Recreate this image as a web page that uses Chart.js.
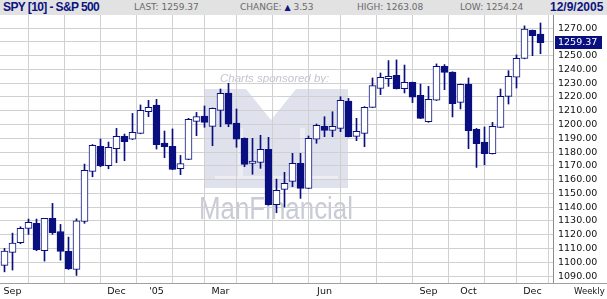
<!DOCTYPE html>
<html><head><meta charset="utf-8">
<script src="https://cdn.jsdelivr.net/npm/chart.js@4"></script>
<style>
html,body{margin:0;padding:0;background:#fff;}
#wrap{position:relative;width:607px;height:299px;overflow:hidden;font-family:"DejaVu Sans",sans-serif;}
#hdr{position:absolute;left:0;top:0;width:607px;height:15px;background:#e2e2e2;z-index:2;}
#hdr span{position:absolute;top:0;line-height:15px;white-space:nowrap;}
.g{color:#6a6a6a;font-size:9px;font-family:"DejaVu Sans",sans-serif;}
.b{color:#0b1480;font-weight:bold;font-family:"Liberation Sans",Arial,sans-serif;font-size:12px;}
.tri{color:#0b1480;font-size:8px;}
#weekly{position:absolute;left:574px;top:286px;font-size:8.5px;color:#111;font-family:"DejaVu Sans",sans-serif;z-index:2;}
canvas{position:absolute;left:0;top:0;}
</style>
</head><body>
<div id="wrap">
<canvas id="c" width="607" height="299"></canvas>
<div id="hdr">
<span class="b" style="left:3px;letter-spacing:-0.6px;">SPY [10] - S&amp;P 500</span>
<span class="g" style="left:134px;">LAST: 1259.37</span>
<span class="g" style="left:240px;">CHANGE: <span class="tri" style="position:static">&#9650;</span> 3.53</span>
<span class="g" style="left:357px;">HIGH: 1263.08</span>
<span class="g" style="left:460px;">LOW: 1254.24</span>
<span class="b" style="left:550px;">12/9/2005</span>
</div>
<div id="weekly">Weekly</div>
</div>
<script>
const opens  = [1097.8,1107.2,1114.2,1124.6,1128.3,1108.4,1131.9,1122.4,1107.9,1094.8,
                1129.7,1166.0,1184.2,1170.1,1182.5,1191.4,1189.3,1193.6,1209.3,1214.2,
                1186.6,1184.2,1167.9,1174.7,1202.3,1206.2,1198.7,1210.3,1222.9,1201.1,
                1190.0,1171.8,1172.6,1182.0,1141.8,1152.9,1158.8,1171.8,1153.7,1189.3,
                1198.7,1195.8,1197.2,1217.1,1191.4,1193.6,1212.5,1226.3,1233.3,1235.7,
                1226.0,1230.6,1221.2,1202.1,1217.6,1242.3,1238.1,1216.1,1229.4,1196.5,
                1187.3,1178.8,1198.0,1220.5,1234.3,1247.9,1268.4,1265.7];
const highs  = [1110.1,1121.2,1125.8,1131.4,1131.4,1131.9,1142.8,1127.5,1118.3,1131.6,
                1171.3,1185.5,1189.5,1187.3,1197.2,1193.1,1208.1,1214.2,1217.6,1218.3,
                1195.3,1196.8,1177.6,1204.5,1208.8,1213.5,1212.0,1225.8,1229.9,1211.3,
                1190.3,1190.0,1192.2,1190.7,1160.4,1165.3,1179.1,1179.1,1191.7,1200.4,
                1205.7,1209.3,1220.2,1219.0,1204.5,1213.0,1233.8,1237.4,1246.4,1246.9,
                1243.2,1230.8,1229.4,1227.7,1244.0,1243.5,1238.3,1229.4,1233.8,1197.2,
                1198.2,1201.6,1225.8,1239.1,1250.5,1271.6,1268.6,1273.7];
const lows   = [1093.1,1094.4,1113.5,1120.3,1108.4,1100.9,1120.3,1101.6,1094.8,1090.5,
                1128.3,1162.1,1169.4,1167.9,1172.3,1173.8,1189.0,1193.3,1205.7,1182.2,
                1175.9,1167.3,1163.6,1174.5,1191.9,1198.0,1184.6,1198.4,1198.4,1183.5,
                1169.4,1163.9,1168.2,1141.5,1136.0,1140.1,1154.9,1146.4,1153.5,1186.4,
                1191.2,1191.2,1194.8,1191.0,1188.3,1183.9,1212.3,1221.7,1227.7,1225.8,
                1222.9,1215.9,1204.3,1201.6,1217.4,1225.3,1205.5,1211.3,1182.5,1168.9,
                1170.8,1178.6,1197.8,1214.9,1226.5,1247.7,1250.0,1251.4];
const closes = [1108.2,1114.0,1124.6,1129.0,1109.1,1131.9,1121.5,1107.9,1095.3,1130.2,
                1166.7,1184.9,1169.9,1183.5,1191.4,1187.5,1194.3,1210.3,1212.5,1185.4,
                1183.9,1167.5,1171.6,1203.8,1205.7,1201.6,1211.8,1222.7,1200.2,1189.3,
                1171.1,1173.5,1182.0,1141.8,1152.2,1157.3,1171.8,1153.7,1190.0,1199.4,
                1195.8,1198.7,1217.6,1191.2,1195.1,1212.5,1228.2,1234.3,1235.0,1226.0,
                1230.6,1219.8,1204.5,1218.3,1242.3,1237.9,1215.1,1229.2,1195.5,1186.1,
                1178.8,1198.7,1220.5,1235.0,1248.1,1269.2,1264.5,1259.37];
// week index of the first week of each month (vertical grid lines)
const monthIdx  = [1,5,10,14,19,23,27,31,36,40,44,49,53,58,62,66];
const labelIdx  = [1,14,19,27,40,53,58,66];
const labelText = ['Sep','Dec',"'05",'Mar','Jun','Sep','Oct','Dec'];
const yTicks    = [1090,1100,1110,1120,1130,1140,1150,1160,1170,1180,1190,1200,1210,1220,1230,1240,1250,1260,1270];
const lastValue = 1259.37;

const NAVY = '#0a0f80';
const GRID = '#d0d0d0';
const tickFont = {family:'DejaVu Sans', size:9.5};

const watermark = {
  id:'watermark',
  beforeDraw(chart){
    const ctx = chart.ctx;
    ctx.save();
    ctx.fillStyle = '#dfe2ec';
    ctx.beginPath();
    ctx.moveTo(205,89); ctx.lineTo(246,89); ctx.lineTo(271,120); ctx.lineTo(296,89);
    ctx.lineTo(348,89); ctx.lineTo(348,188); ctx.lineTo(205,188); ctx.closePath();
    ctx.fill();
    ctx.fillStyle = '#eceef4';
    ctx.fillRect(238,128,5,50);
    ctx.fillRect(300,128,5,50);
    ctx.fillRect(215,176,123,4);
    ctx.fillStyle = '#c3c6d0';
    ctx.font = 'italic 11.5px "Liberation Sans", Arial, sans-serif';
    ctx.textBaseline = 'alphabetic';
    ctx.fillText('Charts sponsored by:', 220, 82, 114);
    ctx.fillStyle = '#c9ccd6';
    ctx.font = '31px "Liberation Sans", Arial, sans-serif';
    ctx.fillText('ManFinancial', 199, 219, 154);
    ctx.restore();
  },
  afterDraw(chart){
    const ctx = chart.ctx;
    const y = chart.scales.y.getPixelForValue(lastValue);
    ctx.save();
    ctx.strokeStyle = '#a0a0a0';
    ctx.lineWidth = 1;
    ctx.beginPath(); ctx.moveTo(0,283.5); ctx.lineTo(607,283.5); ctx.stroke();
    ctx.fillStyle = NAVY;
    ctx.fillRect(555, Math.round(y-6.5), 47, 13);
    ctx.fillStyle = '#fff';
    ctx.font = '9.5px "DejaVu Sans", sans-serif';
    ctx.textBaseline = 'middle';
    ctx.fillText(lastValue.toFixed(2), 558, Math.round(y-6.5)+6.8);
    ctx.restore();
  }
};

new Chart(document.getElementById('c'), {
  type:'bar',
  data:{
    datasets:[
      {
        label:'body', order:0, grouped:false,
        data: closes.map((c,i)=>({x:i, y:[opens[i], c]})),
        backgroundColor: closes.map((c,i)=> c>=opens[i] ? '#ffffff' : NAVY),
        borderColor: NAVY, borderWidth:1, borderSkipped:false,
        barThickness:7
      },
      {
        label:'wick', order:1, grouped:false,
        data: highs.map((h,i)=>({x:i, y:[lows[i], h]})),
        backgroundColor: NAVY, borderWidth:0,
        barThickness:1
      }
    ]
  },
  options:{
    responsive:false, animation:false, devicePixelRatio:1,
    layout:{padding:{top:15,left:0,right:0,bottom:0}},
    plugins:{legend:{display:false}, tooltip:{enabled:false}},
    scales:{
      x:{
        type:'linear', min:-0.5625, max:68.5625, offset:false,
        afterBuildTicks:s=>{ s.ticks = monthIdx.map(v=>({value:v})); },
        afterFit:s=>{ s.height = 16; },
        grid:{color:GRID, drawTicks:false},
        border:{color:'#a0a0a0'},
        ticks:{autoSkip:false, maxRotation:0, padding:3, color:'#111', font:tickFont,
          callback:(v)=>{ const k = labelIdx.indexOf(v); return k>=0 ? labelText[k] : ''; }}
      },
      y:{
        position:'right', min:1085, max:1279.5,
        afterBuildTicks:s=>{ s.ticks = yTicks.map(v=>({value:v})); },
        afterFit:s=>{ s.width = 54; },
        grid:{color:GRID, drawTicks:false},
        border:{color:'#8c8c8c'},
        ticks:{padding:5, color:'#111', font:tickFont,
          callback:(v)=> v===1260 ? '' : Number(v).toFixed(2)}
      }
    }
  },
  plugins:[watermark]
});
</script>
</body></html>
